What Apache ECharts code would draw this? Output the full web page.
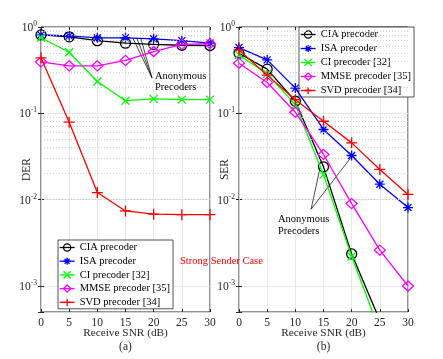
<!DOCTYPE html>
<html>
<head>
<meta charset="utf-8">
<script src="https://cdn.jsdelivr.net/npm/echarts@6/dist/echarts.min.js"></script>
<style>
html,body{margin:0;padding:0;background:#fff;}
#c{width:443px;height:359px;}
</style>
</head>
<body>
<div id="c"></div>
<script>
// ---------- data ----------
var snr = [0, 5, 10, 15, 20, 25, 30];
var xTicks = [0, 5, 10, 15, 20, 25, 30];
var seriesNames = ['CIA precoder', 'ISA precoder', 'CI precoder [32]', 'MMSE precoder [35]', 'SVD precoder [34]'];

// (a) DER
var derCIA  = [0.81, 0.77, 0.695, 0.65, 0.63, 0.615, 0.61];
var derISA  = [0.81, 0.79, 0.75, 0.75, 0.73, 0.695, 0.65];
var derCI   = [0.75, 0.51, 0.234, 0.14, 0.147, 0.144, 0.144];
var derMMSE = [0.395, 0.355, 0.355, 0.41, 0.52, 0.63, 0.64];
var derSVD  = [0.44, 0.079, 0.0121, 0.0074, 0.0068, 0.0067, 0.0067];

// (b) SER
var serCIA  = [0.497, 0.325, 0.138, 0.024, 0.00235, 0.0004];
var serISA  = [0.578, 0.416, 0.196, 0.065, 0.0325, 0.0151, 0.0081];
var serCI   = [0.475, 0.287, 0.126, 0.0195, 0.0022, 0.0003];
var serMMSE = [0.381, 0.228, 0.103, 0.0334, 0.009, 0.0026, 0.001];
var serSVD  = [0.543, 0.277, 0.144, 0.081, 0.0455, 0.0224, 0.0115];

var yMin = 0.0005, yMax = 1;

// ---------- styles ----------
var colors = ['#000000', '#0000ff', '#00ff00', '#ff00ff', '#ff0000'];
var symbols = [
  'path://M10,5A5,5,0,1,1,0,5A5,5,0,1,1,10,5Z',
  'path://M5,0L5,10M0,5L10,5M1.5,1.5L8.5,8.5M8.5,1.5L1.5,8.5',
  'path://M0,0L10,10M10,0L0,10',
  'path://M5,0L10,5L5,10L0,5Z',
  'path://M5,0L5,10M0,5L10,5'
];
var symSizes = [10, 10, 8, [11, 10], 11];
var serif = 'Liberation Serif';
var axisCol = '#262626';

function pairs(ys) { return ys.map(function (y, i) { return [snr[i], y]; }); }

function mkSeries(name, ys, idx, gi) {
  return {
    type: 'line', name: name, xAxisIndex: gi, yAxisIndex: gi,
    data: pairs(ys), clip: true, animation: false,
    symbol: symbols[idx], symbolSize: symSizes[idx],
    lineStyle: { color: colors[idx], width: 1.3 },
    itemStyle: { color: 'transparent', borderColor: colors[idx], borderWidth: 1.3 },
    z: 3 + idx
  };
}

// minor log grid lines
var minorVals = [];
for (var k = -4; k <= -1; k++) {
  for (var m = 2; m <= 9; m++) {
    var v = m * Math.pow(10, k);
    if (v > yMin && v < yMax) minorVals.push(v);
  }
}
function minorSeries(gi) {
  return {
    type: 'line', xAxisIndex: gi, yAxisIndex: gi, data: [], silent: true, animation: false,
    markLine: {
      silent: true, symbol: 'none', animation: false,
      label: { show: false },
      lineStyle: { type: [1, 2], color: '#c8c8c8', width: 0.8 },
      data: minorVals.map(function (v) { return { yAxis: v }; })
    },
    z: 1
  };
}
function arrowSeries(gi, lines) {
  return {
    type: 'line', xAxisIndex: gi, yAxisIndex: gi, data: [], silent: true, animation: false,
    markLine: {
      silent: true, animation: false,
      symbol: ['none', 'arrow'], symbolSize: [0, 5],
      label: { show: false },
      lineStyle: { type: 'solid', color: '#000', width: 0.7 },
      data: lines.map(function (l) { return [{ coord: l[0] }, { coord: l[1] }]; })
    },
    z: 10
  };
}

function yFmt(v) {
  var e = Math.log10(v), r = Math.round(e);
  if (Math.abs(e - r) > 1e-3) return '';
  return '{b|10}{s|' + r + '}';
}

function xAxisCfg(gi, top) {
  return {
    type: 'value', gridIndex: gi, min: 0, max: 30, interval: 5,
    position: top ? 'top' : 'bottom',
    name: top ? '' : 'Receive SNR (dB)', nameLocation: 'middle', nameGap: 16, nameMoveOverlap: false,
    nameTextStyle: { fontFamily: serif, fontSize: 11.3, color: axisCol },
    axisLine: { show: false },
    axisTick: { show: true, inside: true, length: 3, lineStyle: { color: axisCol } },
    axisLabel: { show: !top, margin: 5, fontFamily: serif, fontSize: 11.5, color: axisCol },
    splitLine: { show: !top, lineStyle: { color: '#e2e2e2', width: 0.8 } }
  };
}
function yAxisCfg(gi, right, nm) {
  return {
    type: 'log', logBase: 10, gridIndex: gi, min: yMin, max: yMax,
    position: right ? 'right' : 'left',
    name: right ? '' : nm, nameLocation: 'middle', nameGap: 8, nameRotate: 90, nameMoveOverlap: false,
    nameTextStyle: { fontFamily: serif, fontSize: 11.5, color: axisCol },
    axisLine: { show: false },
    axisTick: { show: true, inside: true, length: 3, lineStyle: { color: axisCol } },
    axisLabel: {
      show: !right, margin: 4, formatter: yFmt,
      rich: {
        b: { fontFamily: serif, fontSize: 11.5, color: axisCol, verticalAlign: 'bottom', lineHeight: 14, padding: [4, 0, 0, 0] },
        s: { fontFamily: serif, fontSize: 7.5, color: axisCol, verticalAlign: 'top', lineHeight: 14 }
      }
    },
    splitLine: { show: !right, lineStyle: { color: '#e2e2e2', width: 0.8 } }
  };
}

function legendCfg(left, top, gap) {
  return {
    data: seriesNames, orient: 'vertical', left: left, top: top,
    selectedMode: false,
    itemWidth: 15, itemHeight: 9, itemGap: gap,
    padding: [2, 3, 1, 1],
    backgroundColor: '#fff', borderColor: axisCol, borderWidth: 0.8,
    itemStyle: { color: 'transparent', borderColor: 'inherit', borderWidth: 1.3 },
    lineStyle: { color: 'inherit', width: 1.3 },
    textStyle: { fontFamily: serif, fontSize: 10.5, color: '#000' }
  };
}

var series = [minorSeries(0), minorSeries(1)];
var derAll = [derCIA, derISA, derCI, derMMSE, derSVD];
var serAll = [serCIA, serISA, serCI, serMMSE, serSVD];
seriesNames.forEach(function (n, i) { series.push(mkSeries(n, derAll[i], i, 0)); });
seriesNames.forEach(function (n, i) { series.push(mkSeries(n, serAll[i], i, 1)); });
series.push(arrowSeries(0, [
  [[16.3, 0.746], [19.7, 0.258]],
  [[17.0, 0.746], [19.7, 0.258]],
  [[17.7, 0.746], [19.7, 0.258]]
]));
series.push(arrowSeries(1, [
  [[14.4, 0.0236], [12.8, 0.00775]],
  [[20.0, 0.0316], [12.8, 0.00775]]
]));

var chart = echarts.init(document.getElementById('c'), null, { renderer: 'canvas' });
chart.setOption({
  backgroundColor: '#fff',
  animation: false,
  grid: [
    { left: 41, top: 27, width: 169, height: 285, show: true, borderColor: axisCol, borderWidth: 1, backgroundColor: 'transparent' },
    { left: 239, top: 27, width: 169, height: 285, show: true, borderColor: axisCol, borderWidth: 1, backgroundColor: 'transparent' }
  ],
  xAxis: [xAxisCfg(0, false), xAxisCfg(1, false), xAxisCfg(0, true), xAxisCfg(1, true)],
  yAxis: [yAxisCfg(0, false, 'DER'), yAxisCfg(1, false, 'SER'), yAxisCfg(0, true), yAxisCfg(1, true)],
  legend: [legendCfg(58, 240, 2.7), legendCfg(299, 27, 3)],
  series: series,
  graphic: [
    { type: 'text', left: 155, top: 71, z: 20, style: { text: 'Anonymous\nPrecoders', font: '10.5px "Liberation Serif"', fill: '#000', lineHeight: 11 } },
    { type: 'text', left: 278, top: 213, z: 20, style: { text: 'Anonymous\nPrecoders', font: '10.5px "Liberation Serif"', fill: '#000', lineHeight: 12 } },
    { type: 'text', left: 180, top: 256, z: 20, style: { text: 'Strong Sender Case', font: '10.5px "Liberation Serif"', fill: '#ff0000' } },
    { type: 'text', x: 125.5, y: 347, z: 20, style: { text: '(a)', font: '11.5px "Liberation Serif"', fill: axisCol, align: 'center', verticalAlign: 'middle' } },
    { type: 'text', x: 323.5, y: 347, z: 20, style: { text: '(b)', font: '11.5px "Liberation Serif"', fill: axisCol, align: 'center', verticalAlign: 'middle' } }
  ]
});
</script>
</body>
</html>
